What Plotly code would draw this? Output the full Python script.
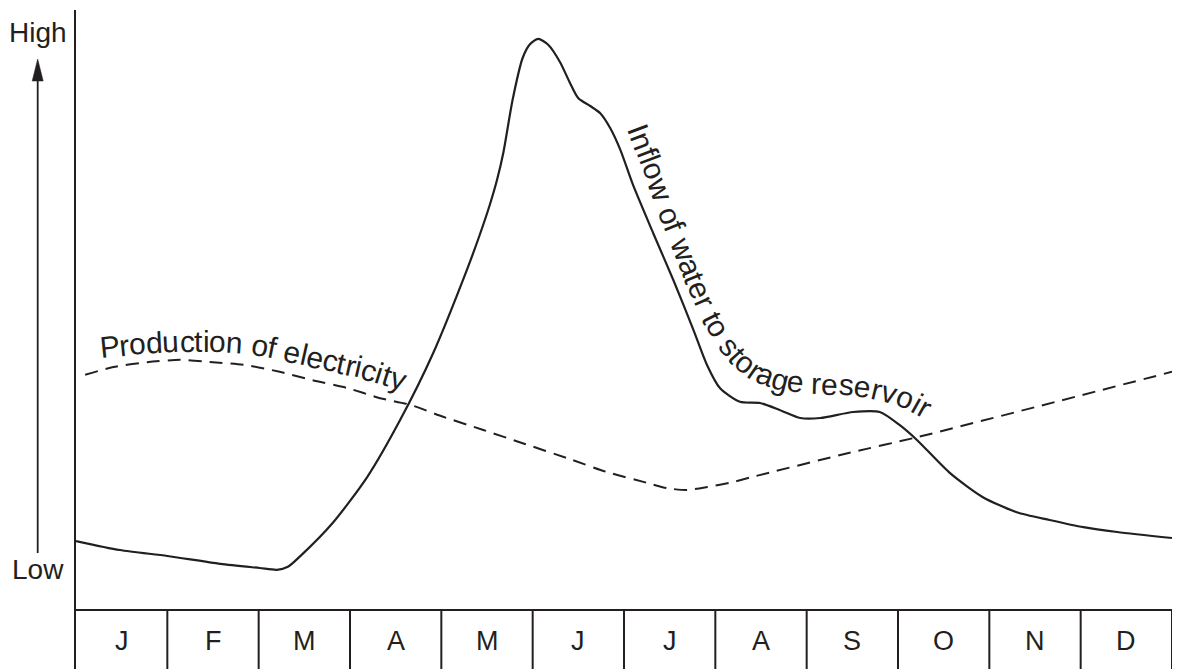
import numpy as np
import plotly.graph_objects as go

# ---------------- data ----------------
months = ["J", "F", "M", "A", "M", "J", "J", "A", "S", "O", "N", "D"]

# Inflow of water to storage reservoir (x in months from start of Jan, y = relative level 0..100)
inflow_x = [0.00, 0.48, 1.00, 1.58, 2.01, 2.20, 2.32, 2.45, 2.81, 3.19, 3.55, 3.91, 4.28,
            4.42, 4.53, 4.61, 4.68, 4.78, 4.89, 4.97, 5.06, 5.17, 5.30, 5.41, 5.50, 5.63,
            5.74, 5.85, 5.96, 6.10, 6.32, 6.54, 6.76, 6.91, 7.05, 7.27, 7.49, 7.71, 7.93,
            8.15, 8.51, 8.80, 9.02, 9.21, 9.57, 9.93, 10.30, 10.66, 11.03, 11.40, 12.00]
inflow_y = [11.5, 10.0, 9.0, 7.7, 7.0, 6.7, 7.2, 8.9, 14.5, 22.2, 31.7, 42.8, 56.7,
            62.5, 67.5, 71.7, 76.3, 85.0, 92.0, 94.3, 95.2, 94.2, 91.3, 87.8, 85.3, 84.0,
            82.8, 80.3, 76.7, 70.8, 62.8, 55.0, 46.7, 40.8, 37.0, 34.7, 34.5, 33.3, 32.0,
            32.0, 33.0, 33.0, 30.8, 28.3, 22.8, 18.8, 16.3, 15.0, 13.8, 13.0, 12.0]

# Production of electricity
prod_x = [0.10, 0.41, 0.78, 1.14, 1.50, 1.87, 2.23, 2.59, 2.97, 3.33, 3.66, 4.02, 4.46,
          4.89, 5.38, 5.81, 6.25, 6.47, 6.69, 6.91, 7.19, 7.41, 8.47, 9.21, 12.00]
prod_y = [39.2, 40.5, 41.3, 41.7, 41.3, 40.8, 39.7, 38.3, 37.0, 35.3, 34.2, 32.2, 30.0,
          27.8, 25.3, 23.0, 21.2, 20.3, 20.0, 20.5, 21.3, 22.2, 26.2, 28.8, 39.7]

y_high_label = "High"
y_low_label = "Low"
prod_label = "Production of electricity"
inflow_label = "Inflow of water to storage reservoir"

# ---------------- layout geometry ----------------
W, H = 1177, 669
ML, MR, MT, MB = 76, 5, 10, 0
PW, PH = W - ML - MR, H - MT - MB
X_RANGE = [0, 12]
Y_RANGE = [-59 / 6, 100]
INK = "#231f20"
FONT = "Liberation Sans, Arial, Helvetica, sans-serif"


def px_to_data(px, py):
    x = X_RANGE[0] + (px - ML) / PW * (X_RANGE[1] - X_RANGE[0])
    y = Y_RANGE[1] - (py - MT) / PH * (Y_RANGE[1] - Y_RANGE[0])
    return x, y


def px_to_paper(px, py):
    return (px - ML) / PW, (H - MB - py) / PH


# Arial / Helvetica advance widths (per 1000 em)
CW = {" ": 278, "I": 278, "n": 556, "f": 278, "l": 222, "o": 556, "w": 722, "a": 556,
      "t": 278, "e": 556, "r": 333, "s": 500, "g": 556, "v": 500, "i": 222, "P": 667,
      "d": 556, "u": 556, "c": 500, "y": 500}

# baseline paths (screen pixels) that the curved labels follow
prod_label_path = [(101, 358), (140, 354), (180, 352), (220, 352), (250, 354), (280, 360),
                   (320, 369), (360, 378), (402, 391)]
inflow_label_path = [(627, 129), (639, 161), (651, 193), (663, 226), (676, 259), (689, 292),
                     (703, 323), (718, 349), (736, 369), (756, 383), (781, 391), (810, 394),
                     (840, 395), (865, 397), (890, 403), (908, 410), (924, 419)]


def curved_text(text, path, fs):
    pts = np.array(path, float)
    seg = np.hypot(*np.diff(pts, axis=0).T)
    cum = np.concatenate([[0], np.cumsum(seg)])
    total = cum[-1]
    widths = [CW.get(c, 556) * fs / 1000 for c in text]
    scale = total / sum(widths)

    def pt(s):
        s = min(max(s, 0), total)
        return np.array([np.interp(s, cum, pts[:, 0]), np.interp(s, cum, pts[:, 1])])

    anns = []
    s = 0.0
    for c, w in zip(text, widths):
        w2 = w * scale
        if c != " ":
            a, b = pt(s), pt(s + w2)
            d = b - a
            phi = np.arctan2(d[1], d[0])
            base = pt(s + w2 / 2)
            up = np.array([np.sin(phi), -np.cos(phi)])
            cen = base + 0.35 * fs * up
            x, y = px_to_data(*cen)
            anns.append(dict(x=x, y=y, xref="x", yref="y", text=c, showarrow=False,
                             xanchor="center", yanchor="middle",
                             textangle=float(np.degrees(phi)),
                             font=dict(family=FONT, size=fs, color=INK)))
        s += w2
    return anns


fig = go.Figure()
fig.add_trace(go.Scatter(x=prod_x, y=prod_y, mode="lines",
                         line=dict(color=INK, width=2, dash="13px,8px", shape="spline",
                                   smoothing=0.6),
                         hoverinfo="skip", showlegend=False))
fig.add_trace(go.Scatter(x=inflow_x, y=inflow_y, mode="lines",
                         line=dict(color=INK, width=2.2, shape="spline", smoothing=0.7),
                         hoverinfo="skip", showlegend=False))

shapes = []
# month strip
shapes.append(dict(type="line", xref="x", yref="y", x0=0, x1=12, y0=0, y1=0,
                   line=dict(color=INK, width=2)))
for k in range(1, 13):
    shapes.append(dict(type="line", xref="x", yref="y", x0=k, x1=k, y0=0, y1=Y_RANGE[0],
                       line=dict(color=INK, width=2)))
# low -> high arrow
ax0, ay0 = px_to_paper(37.7, 553)
ax1, ay1 = px_to_paper(37.7, 76)
shapes.append(dict(type="line", xref="paper", yref="paper", x0=ax0, x1=ax1, y0=ay0, y1=ay1,
                   line=dict(color=INK, width=1.8)))
tx, ty = px_to_paper(37.7, 59)
lx, ly = px_to_paper(32.2, 81)
rx, ry = px_to_paper(43.2, 81)
shapes.append(dict(type="path", xref="paper", yref="paper",
                   path=f"M {tx} {ty} L {lx} {ly} L {rx} {ry} Z",
                   fillcolor=INK, line=dict(color=INK, width=0.5)))

anns = []
for k, m in enumerate(months):
    mx, my = k + 0.5, px_to_data(0, 641)[1]
    anns.append(dict(x=mx, y=my, xref="x", yref="y", text=m, showarrow=False,
                     xanchor="center", yanchor="middle",
                     font=dict(family=FONT, size=27, color=INK)))
hx, hy = px_to_paper(38, 33)
anns.append(dict(x=hx, y=hy, xref="paper", yref="paper", text=y_high_label, showarrow=False,
                 xanchor="center", yanchor="middle", font=dict(family=FONT, size=28, color=INK)))
lwx, lwy = px_to_paper(38, 569)
anns.append(dict(x=lwx, y=lwy, xref="paper", yref="paper", text=y_low_label, showarrow=False,
                 xanchor="center", yanchor="middle", font=dict(family=FONT, size=28, color=INK)))
anns += curved_text(prod_label, prod_label_path, 30)
anns += curved_text(inflow_label, inflow_label_path, 30)

fig.update_layout(
    width=W, height=H,
    margin=dict(l=ML, r=MR, t=MT, b=MB, pad=0),
    paper_bgcolor="white", plot_bgcolor="white",
    xaxis=dict(range=X_RANGE, visible=False, showgrid=False, zeroline=False, fixedrange=True),
    yaxis=dict(range=Y_RANGE, showgrid=False, zeroline=False, showticklabels=False,
               ticks="", showline=True, linecolor=INK, linewidth=2, fixedrange=True),
    shapes=shapes, annotations=anns, showlegend=False,
)

fig.write_html("out.html", config={"displayModeBar": False},
               post_script="document.body.style.margin='0';document.body.style.padding='0';"
                           "document.body.style.overflow='hidden';")
